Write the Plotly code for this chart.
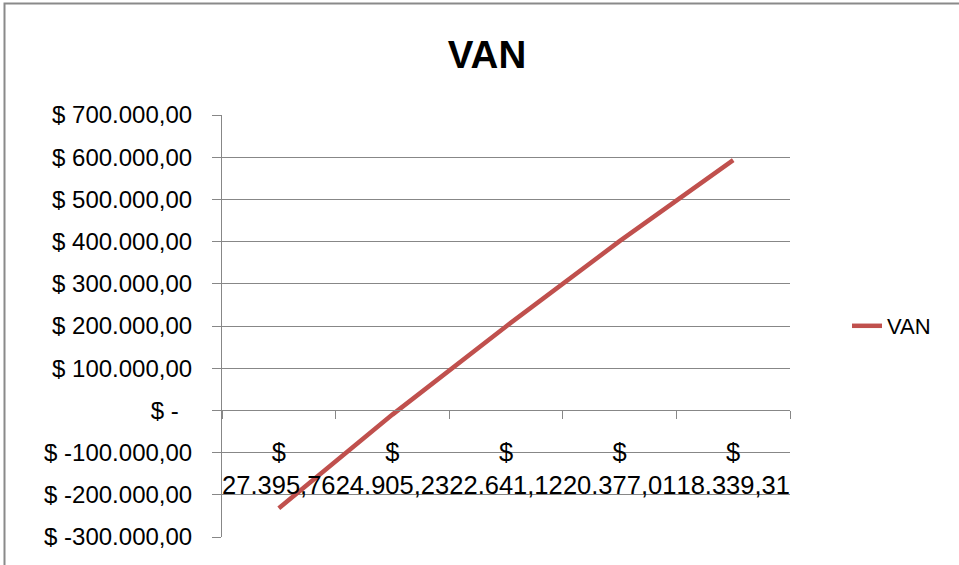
import plotly.graph_objects as go

categories = ["$ 27.395,76", "$ 24.905,23", "$ 22.641,12", "$ 20.377,01", "$ 18.339,31"]
van_values = [-232000, -10000, 199000, 401000, 593000]
y_tick_values = [-300000, -200000, -100000, 0, 100000, 200000, 300000, 400000, 500000, 600000, 700000]
y_tick_labels = ["$ -300.000,00", "$ -200.000,00", "$ -100.000,00", "$ -\u00a0\u00a0",
                 "$ 100.000,00", "$ 200.000,00", "$ 300.000,00", "$ 400.000,00",
                 "$ 500.000,00", "$ 600.000,00", "$ 700.000,00"]

W, H = 959, 565
L, R, T, B = 222, 169, 115, 28
y_range = [-300000, 700000]
zero_frac = (0 - y_range[0]) / (y_range[1] - y_range[0])

x_text = [c.replace("$ ", "$<br>") for c in categories]

font = "Liberation Sans, Arial, sans-serif"
grid = "#878787"

fig = go.Figure()
fig.add_trace(go.Scatter(
    x=categories, y=van_values, mode="lines", name="VAN",
    line=dict(color="#C0504D", width=4.5),
))

fig.update_layout(
    width=W, height=H,
    margin=dict(l=L, r=R, t=T, b=B, autoexpand=False),
    paper_bgcolor="white", plot_bgcolor="white",
    title=dict(text="<b>VAN</b>", x=487 / W, xref="container", xanchor="center",
               y=1 - 55 / H, yref="container", yanchor="middle",
               font=dict(family=font, size=38.5, color="black")),
    showlegend=True,
    legend=dict(x=(847 - L) / (W - L - R), y=0.5, xanchor="left", yanchor="middle",
                font=dict(family=font, size=22, color="black"),
                bgcolor="rgba(0,0,0,0)"),
    xaxis=dict(
        type="category",
        range=[-0.5, len(categories) - 0.5],
        tickmode="array", tickvals=categories, ticktext=x_text,
        tickangle=0,
        tickson="boundaries", ticks="outside", ticklen=8, tickcolor=grid,
        showline=True, linecolor=grid, linewidth=1,
        showgrid=False, zeroline=False,
        anchor="free", position=zero_frac,
        ticklabelstandoff=19,
        tickfont=dict(family=font, size=25.5, color="black"),
        fixedrange=True,
    ),
    yaxis=dict(
        range=y_range,
        tickmode="array", tickvals=y_tick_values, ticktext=y_tick_labels,
        ticks="outside", ticklen=9, tickcolor=grid,
        showline=True, linecolor=grid, linewidth=1,
        showgrid=True, gridcolor=grid, gridwidth=1,
        zeroline=False,
        ticklabelstandoff=15,
        tickfont=dict(family=font, size=24, color="black"),
        fixedrange=True,
    ),
    shapes=[dict(type="rect", xref="paper", yref="paper",
                 x0=(4.5 - L) / (W - L - R), x1=1.6,
                 y0=-0.5, y1=1 + (T - 3.5) / (H - T - B),
                 line=dict(color="#8a8a8a", width=2), fillcolor="rgba(0,0,0,0)",
                 layer="below")],
)

fig.write_html("out.html", config={"displayModeBar": False},
               post_script="document.body.style.margin='0';")
